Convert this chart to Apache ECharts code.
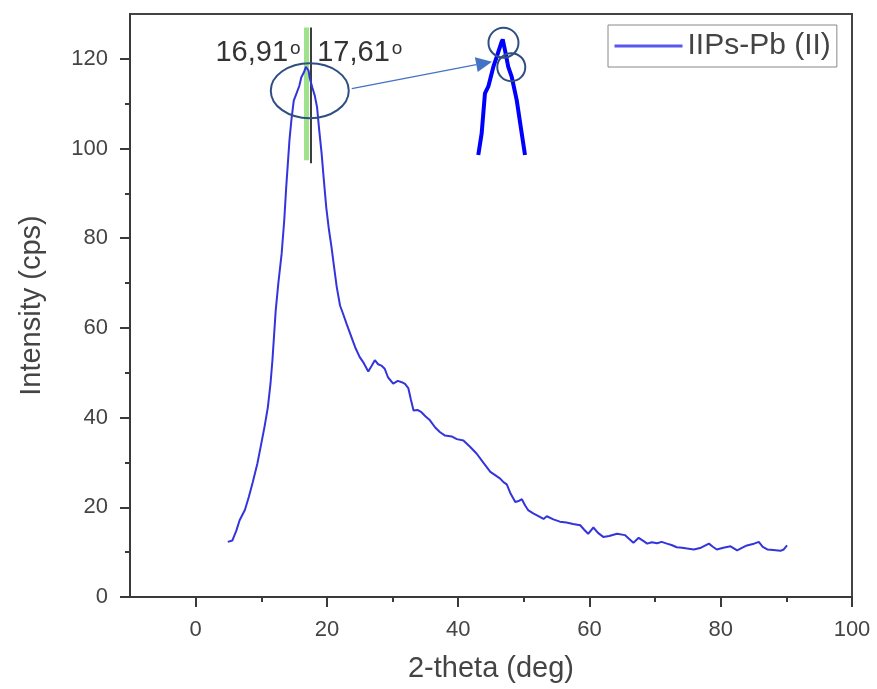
<!doctype html>
<html lang="en">
<head>
    <meta charset="UTF-8">
    <title>IIPs-Pb (II)</title>
    <style>
        *{
            margin:0;
            padding:0;
        }
        body{
            background:#fff;
        }
        #main{
            width:877px;
            height:689px;
        }
    </style>
</head>
<body>
<div id="main"></div>
<script src="https://cdn.jsdelivr.net/npm/echarts@6/dist/echarts.min.js"></script>
<script>
    // 2-theta (deg) / intensity (cps)
    var thetaDeg = [4.9, 5.6, 6.2, 6.7, 7.5, 8.1, 8.7, 9.4, 10.0, 10.5, 11.0, 11.4, 11.7, 12.2, 12.6, 13.1, 13.5, 13.8,
        14.3, 14.6, 14.95, 15.4, 15.8, 16.1, 16.5, 16.8, 17.0, 17.2, 17.4, 17.8, 18.15, 18.5, 18.8, 19.2, 19.5, 19.9,
        20.3, 20.7, 21.1, 21.5, 22.0, 22.5, 23.0, 23.6, 24.3, 25.0, 25.6, 26.3, 26.8, 27.3, 27.8, 28.3, 28.8, 29.3,
        30.1, 30.8, 31.4, 31.9, 32.4, 32.8, 33.2, 33.8, 34.4, 35.0, 35.7, 36.5, 37.2, 38.0, 39.0, 39.8, 40.8, 41.8,
        42.8, 43.8, 44.9, 45.8, 46.4, 46.9, 47.4, 48.0, 48.7, 49.2, 49.7, 50.2, 50.7, 51.5, 52.3, 53.0, 53.5, 54.5,
        55.5, 56.5, 57.5, 58.6, 59.2, 59.8, 60.6, 61.3, 62.1, 63.0, 64.2, 65.4, 66.1, 66.7, 67.5, 68.2, 68.8, 69.5,
        70.3, 71.0, 71.8, 72.5, 73.3, 74.1, 74.9, 75.9, 77.0, 78.2, 78.8, 79.4, 80.4, 81.5, 82.5, 83.3, 84.0, 84.9,
        85.8, 86.4, 87.1, 88.0, 89.1, 89.6, 90.1];
    var intensity = [12.3, 12.6, 14.8, 17.1, 19.4, 22.3, 25.6, 29.7, 34.2, 38.0, 42.3, 47.5, 52.8, 63.9, 70.0, 76.5, 84.0, 91.4,
        102.0, 106.5, 110.7, 112.4, 114.0, 115.9, 117.0, 118.2, 118.6, 117.4, 115.6, 113.5, 111.8, 109.2, 104.5, 98.8, 93.5, 86.9,
        82.0, 78.0, 73.5, 69.1, 65.0, 63.0, 60.9, 58.5, 55.7, 53.5, 52.2, 50.3, 51.5, 52.8, 51.9, 51.6, 50.9, 49.0,
        47.6, 48.2, 47.9, 47.5, 46.6, 44.0, 41.6, 41.7, 41.2, 40.3, 39.4, 37.8, 36.8, 36.0, 35.8, 35.2, 34.9, 33.5,
        32.0, 30.0, 27.9, 27.0, 26.4, 25.6, 25.1, 23.0, 21.2, 21.4, 21.8, 20.4, 19.3, 18.6, 18.0, 17.4, 18.0, 17.3,
        16.8, 16.6, 16.3, 16.0, 15.0, 14.1, 15.5, 14.3, 13.4, 13.6, 14.1, 13.8, 12.9, 12.1, 13.2, 12.5, 11.9, 12.2,
        12.0, 12.3, 11.9, 11.6, 11.1, 11.0, 10.8, 10.6, 11.0, 11.9, 11.2, 10.6, 11.0, 11.3, 10.4, 11.0, 11.5, 11.8,
        12.3, 11.2, 10.6, 10.5, 10.3, 10.6, 11.5];

    // zoomed peak drawn next to the main curve
    var insetTheta = [14.33, 14.69, 15.04, 15.40, 15.93, 16.29, 16.82, 16.93, 17.17, 17.52, 17.89, 18.42, 18.84, 19.3];
    var insetIntensity = [97.0, 101.1, 108.7, 110.0, 113.7, 115.6, 118.5, 118.9, 116.9, 113.7, 111.8, 107.4, 102.4, 97.0];

    var peakTheta = [16.91, 17.61];
    var peakLabels = ['16,91', '17,61'];

    var xMajorTicks = [0, 20, 40, 60, 80, 100];
    var xMinorTicks = [10, 30, 50, 70, 90];
    var yMajorTicks = [0, 20, 40, 60, 80, 100, 120];
    var yMinorTicks = [10, 30, 50, 70, 90, 110];

    var font = 'Liberation Sans, Arial, sans-serif';
    var axisColor = '#3a3a3a';
    var textColor = '#444';
    var markColor = '#2f4f82';

    var mainData = thetaDeg.map(function (t, i) { return [t, intensity[i]]; });
    var insetData = insetTheta.map(function (t, i) { return [t, insetIntensity[i]]; });

    // extra axis that only draws the short (minor) ticks
    function tickAxis(ticks, len, extra) {
        var ax = {
            type: 'value',
            gridIndex: 0,
            axisLine: {show: false, onZero: false},
            axisTick: {customValues: ticks, length: len, lineStyle: {color: axisColor, width: 2}},
            axisLabel: {show: false},
            splitLine: {show: false}
        };
        return Object.assign(ax, extra);
    }

    var myChart = echarts.init(document.getElementById('main'));
    var option = {
        animation: false,
        backgroundColor: '#fff',
        textStyle: {fontFamily: font},
        grid: [
            {left: 130, right: 25, top: 14, bottom: 92, show: true, borderColor: '#444', borderWidth: 2},
            {left: 478, top: 39, width: 47, height: 116}
        ],
        legend: {
            data: ['IIPs-Pb (II)'],
            left: 608,
            top: 25,
            padding: [6, 6, 6, 5],
            borderColor: '#888',
            borderWidth: 1,
            borderRadius: 0,
            itemWidth: 68,
            itemHeight: 14,
            itemStyle: {opacity: 0},
            lineStyle: {color: '#5858ee', width: 3},
            textStyle: {fontSize: 30, color: textColor, fontFamily: font}
        },
        xAxis: [
            {
                type: 'value', gridIndex: 0, min: -10, max: 100, position: 'bottom',
                axisLine: {onZero: false, lineStyle: {color: axisColor, width: 2}},
                axisTick: {customValues: xMajorTicks, length: 10, lineStyle: {color: axisColor, width: 2}},
                axisLabel: {customValues: xMajorTicks, fontSize: 22, color: textColor, margin: 22},
                splitLine: {show: false},
                name: '2-theta (deg)', nameLocation: 'middle', nameGap: 57,
                nameTextStyle: {fontSize: 29, color: textColor}
            },
            tickAxis(xMinorTicks, 5, {min: -10, max: 100, position: 'bottom'}),
            {type: 'value', gridIndex: 1, min: 14.3, max: 19.3, show: false}
        ],
        yAxis: [
            {
                type: 'value', gridIndex: 0, min: 0, max: 130, position: 'left',
                axisLine: {show: true, onZero: false, lineStyle: {color: axisColor, width: 2}},
                axisTick: {show: true, customValues: yMajorTicks, length: 10, lineStyle: {color: axisColor, width: 2}},
                axisLabel: {customValues: yMajorTicks, fontSize: 22, color: textColor, margin: 22},
                splitLine: {show: false},
                name: 'Intensity (cps)', nameLocation: 'middle', nameGap: 84,
                nameTextStyle: {fontSize: 29, color: textColor}
            },
            tickAxis(yMinorTicks, 5, {min: 0, max: 130, position: 'left'}),
            {type: 'value', gridIndex: 1, min: 97, max: 119, show: false}
        ],
        series: [
            {
                name: 'IIPs-Pb (II)',
                type: 'line',
                xAxisIndex: 0,
                yAxisIndex: 0,
                data: mainData,
                symbol: 'none',
                z: 3,
                color: '#3434dc',
                lineStyle: {color: '#3434dc', width: 2},
                markLine: {
                    silent: true,
                    symbol: ['none', 'none'],
                    label: {show: false},
                    z: 2,
                    data: [
                        [{coord: [peakTheta[0], 97.4], lineStyle: {color: '#9ee28c', width: 5, type: 'solid'}},
                            {coord: [peakTheta[0], 127]}],
                        [{coord: [peakTheta[1], 96.7], lineStyle: {color: '#3d3d3d', width: 2, type: 'solid'}},
                            {coord: [peakTheta[1], 127]}]
                    ]
                }
            },
            {
                name: 'inset',
                type: 'line',
                xAxisIndex: 2,
                yAxisIndex: 2,
                data: insetData,
                symbol: 'none',
                silent: true,
                lineStyle: {color: '#0000ff', width: 4}
            }
        ]
    };
    myChart.setOption(option);

    // callouts: labels, ellipse, arrow, circles
    function px(pt, gi) {
        return myChart.convertToPixel({gridIndex: gi}, pt);
    }
    var graphics = [];
    peakLabels.forEach(function (lab, i) {
        var gx = px([peakTheta[i], 0], 0)[0];
        graphics.push({
            type: 'text',
            x: i === 0 ? gx - 6 : gx + 6,
            y: 53,
            z: 10,
            style: {
                text: '{n|' + lab + '}{s|o}',
                align: i === 0 ? 'right' : 'left',
                verticalAlign: 'middle',
                rich: {
                    n: {fontSize: 29, fill: '#333', fontFamily: font, lineHeight: 28},
                    s: {fontSize: 19, fill: '#333', fontFamily: font, verticalAlign: 'top', padding: [0, 0, 0, 2]}
                }
            }
        });
    });
    var ec = px([17.39, 112.9], 0);
    graphics.push({
        type: 'ellipse', z: 10,
        shape: {cx: ec[0], cy: ec[1], rx: 39, ry: 27.5},
        style: {fill: 'none', stroke: markColor, lineWidth: 2}
    });
    var a0 = [ec[0] + 42, ec[1] - 2];
    var a1 = px([15.79, 114.7], 1);
    var ang = Math.atan2(a1[1] - a0[1], a1[0] - a0[0]);
    var hl = 16, hw = 7.5;
    var base = [a1[0] - hl * Math.cos(ang), a1[1] - hl * Math.sin(ang)];
    graphics.push({
        type: 'line', z: 10,
        shape: {x1: a0[0], y1: a0[1], x2: base[0], y2: base[1]},
        style: {stroke: '#4472c4', lineWidth: 1.3}
    });
    graphics.push({
        type: 'polygon', z: 10,
        shape: {points: [a1,
            [base[0] + hw * Math.sin(ang), base[1] - hw * Math.cos(ang)],
            [base[0] - hw * Math.sin(ang), base[1] + hw * Math.cos(ang)]]},
        style: {fill: '#4472c4'}
    });
    var c1 = px([17.01, 118.3], 1);
    var c2 = px([17.84, 113.65], 1);
    graphics.push({
        type: 'circle', z: 10,
        shape: {cx: c1[0], cy: c1[1], r: 15},
        style: {fill: 'none', stroke: markColor, lineWidth: 2}
    });
    graphics.push({
        type: 'circle', z: 10,
        shape: {cx: c2[0], cy: c2[1], r: 14},
        style: {fill: 'none', stroke: markColor, lineWidth: 2}
    });
    myChart.setOption({graphic: graphics});
</script>
</body>
</html>
